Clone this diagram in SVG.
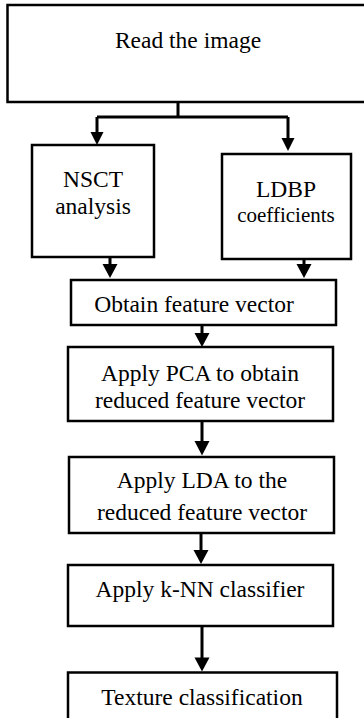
<svg xmlns="http://www.w3.org/2000/svg" width="364" height="718" viewBox="0 0 364 718">
  <style>
    .box { fill: #fff; stroke: #000; stroke-width: 2.5; }
    text { font-family: 'Liberation Serif', Tinos, Times, 'DejaVu Serif', serif; font-size: 23.5px; fill: #000; text-anchor: middle; }
    .sm { font-size: 21px; }
    .wire { fill: none; stroke: #000; stroke-width: 3; }
    .head { fill: #000; }
  </style>
  <rect width="364" height="718" fill="#fff"/>

  <g id="read">
    <rect class="box" x="7.5" y="5" width="370" height="97"/>
    <text x="188" y="48">Read the image</text>
  </g>
  <g id="nsct">
    <rect class="box" x="32" y="145" width="122" height="112"/>
    <text x="93" y="187">NSCT</text>
    <text x="93" y="214">analysis</text>
  </g>
  <g id="ldbp">
    <rect class="box" x="222" y="154" width="129" height="105"/>
    <text x="286" y="197">LDBP</text>
    <text class="sm" x="286" y="222">coefficients</text>
  </g>
  <g id="feature">
    <rect class="box" x="71" y="280" width="265" height="45"/>
    <text x="194" y="312">Obtain feature vector</text>
  </g>
  <g id="pca">
    <rect class="box" x="68" y="347" width="265" height="74"/>
    <text x="200" y="381">Apply PCA to obtain</text>
    <text x="200" y="408">reduced feature vector</text>
  </g>
  <g id="lda">
    <rect class="box" x="69" y="457" width="265" height="76"/>
    <text x="202" y="488">Apply LDA to the</text>
    <text x="202" y="520">reduced feature vector</text>
  </g>
  <g id="knn">
    <rect class="box" x="68" y="565" width="265" height="61"/>
    <text x="200" y="597">Apply k-NN classifier</text>
  </g>
  <g id="texture">
    <rect class="box" x="68" y="672.5" width="269" height="60"/>
    <text x="202" y="705">Texture classification</text>
  </g>

  <g id="connectors">
    <path class="wire" d="M178 102 V117 M97 117 H288 M97 117 V134 M288 117 V140"/>
    <path class="head" d="M90.5 132 H103.5 L97 145 Z"/>
    <path class="head" d="M281.5 138 H294.5 L288 151 Z"/>

    <path class="wire" d="M110 257 V265 M304 259 V265"/>
    <path class="head" d="M102.5 264 H117.5 L110 278 Z"/>
    <path class="head" d="M296.5 264 H311.5 L304 278 Z"/>

    <path class="wire" d="M202 325 V334"/>
    <path class="head" d="M194.5 333 H209.5 L202 347 Z"/>

    <path class="wire" d="M202 421 V442"/>
    <path class="head" d="M194.5 441 H209.5 L202 455.5 Z"/>

    <path class="wire" d="M201 533 V551"/>
    <path class="head" d="M193.5 550 H208.5 L201 564 Z"/>

    <path class="wire" d="M202 626 V659"/>
    <path class="head" d="M194.5 657.5 H209.5 L202 671.5 Z"/>
  </g>
</svg>
